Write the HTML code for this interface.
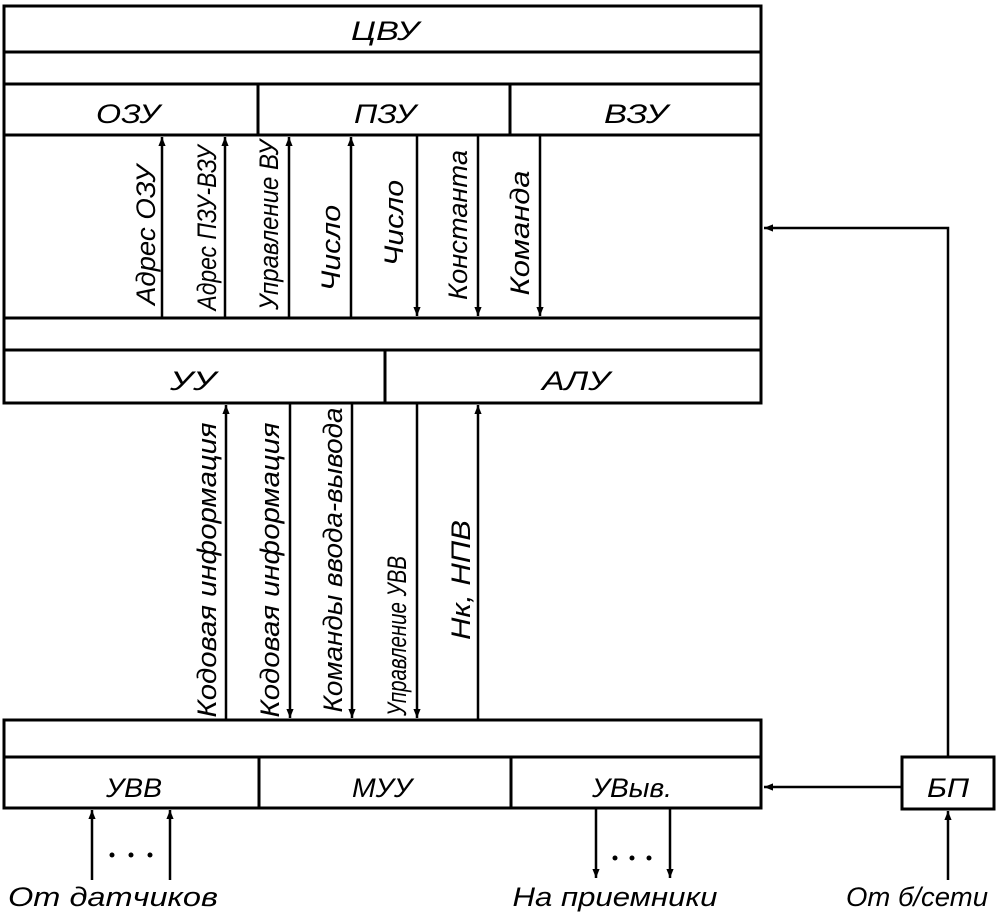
<!DOCTYPE html>
<html><head><meta charset="utf-8"><style>
html,body{margin:0;padding:0;background:#fff}
svg{display:block}
text{font-family:"Liberation Sans","DejaVu Sans",sans-serif;font-style:italic;font-size:27px;fill:#000}
</style></head><body>
<svg width="1000" height="919" viewBox="0 0 1000 919" xmlns="http://www.w3.org/2000/svg">
<defs>
<marker id="a" viewBox="0 0 10 10" refX="10" refY="5" markerWidth="9" markerHeight="14" orient="auto" markerUnits="userSpaceOnUse"><path d="M0,1 L10,5 L0,9 z" fill="#000"/></marker>
</defs>
<g stroke="#000" stroke-width="3" fill="none">
<rect x="4" y="6" width="757" height="397"/>
<line x1="4" y1="52" x2="761" y2="52"/>
<line x1="4" y1="84" x2="761" y2="84"/>
<line x1="4" y1="135" x2="761" y2="135"/>
<line x1="4" y1="318" x2="761" y2="318"/>
<line x1="4" y1="350" x2="761" y2="350"/>
<line x1="258" y1="84" x2="258" y2="135"/>
<line x1="510" y1="84" x2="510" y2="135"/>
<line x1="385" y1="350" x2="385" y2="403"/>
<rect x="4" y="720" width="757" height="88"/>
<line x1="4" y1="757" x2="761" y2="757"/>
<line x1="259" y1="757" x2="259" y2="808"/>
<line x1="511" y1="757" x2="511" y2="808"/>
<rect x="902" y="757" width="92" height="52"/>
</g>
<g stroke="#000" stroke-width="2.5" fill="none">
<line x1="162" y1="318" x2="162" y2="137" marker-end="url(#a)"/>
<line x1="225" y1="318" x2="225" y2="137" marker-end="url(#a)"/>
<line x1="289" y1="318" x2="289" y2="137" marker-end="url(#a)"/>
<line x1="351" y1="318" x2="351" y2="137" marker-end="url(#a)"/>
<line x1="417" y1="135" x2="417" y2="316" marker-end="url(#a)"/>
<line x1="478" y1="135" x2="478" y2="316" marker-end="url(#a)"/>
<line x1="540" y1="135" x2="540" y2="316" marker-end="url(#a)"/>
<line x1="226" y1="720" x2="226" y2="405" marker-end="url(#a)"/>
<line x1="290" y1="403" x2="290" y2="718" marker-end="url(#a)"/>
<line x1="352" y1="403" x2="352" y2="718" marker-end="url(#a)"/>
<line x1="417" y1="403" x2="417" y2="718" marker-end="url(#a)"/>
<line x1="478" y1="720" x2="478" y2="405" marker-end="url(#a)"/>
<polyline points="948,757 948,228 764,228" marker-end="url(#a)"/>
<line x1="902" y1="787" x2="764" y2="787" marker-end="url(#a)"/>
<line x1="948" y1="880" x2="948" y2="811" marker-end="url(#a)"/>
<line x1="92" y1="880" x2="92" y2="810" marker-end="url(#a)"/>
<line x1="170" y1="880" x2="170" y2="810" marker-end="url(#a)"/>
<line x1="596" y1="808" x2="596" y2="878" marker-end="url(#a)"/>
<line x1="670" y1="808" x2="670" y2="878" marker-end="url(#a)"/>
</g>
<g fill="#000"><circle cx="112" cy="855" r="2.5"/><circle cx="131" cy="855" r="2.5"/><circle cx="150" cy="855" r="2.5"/>
<circle cx="615" cy="858" r="2.5"/><circle cx="632" cy="858" r="2.5"/><circle cx="649" cy="858" r="2.5"/></g>
<g text-anchor="middle">
<text x="385" y="40" textLength="68" lengthAdjust="spacingAndGlyphs">ЦВУ</text>
<text x="128" y="123" textLength="64" lengthAdjust="spacingAndGlyphs">ОЗУ</text>
<text x="385" y="123" textLength="62" lengthAdjust="spacingAndGlyphs">ПЗУ</text>
<text x="636" y="123" textLength="64" lengthAdjust="spacingAndGlyphs">ВЗУ</text>
<text x="193" y="390" textLength="46" lengthAdjust="spacingAndGlyphs">УУ</text>
<text x="576" y="390" textLength="68" lengthAdjust="spacingAndGlyphs">АЛУ</text>
<text x="134" y="797" textLength="56" lengthAdjust="spacingAndGlyphs">УВВ</text>
<text x="382" y="797" textLength="60" lengthAdjust="spacingAndGlyphs">МУУ</text>
<text x="632" y="797" textLength="80" lengthAdjust="spacingAndGlyphs">УВыв.</text>
<text x="948" y="797" textLength="42" lengthAdjust="spacingAndGlyphs">БП</text>
<text x="113" y="906" textLength="210" lengthAdjust="spacingAndGlyphs">От датчиков</text>
<text x="615" y="906" textLength="205" lengthAdjust="spacingAndGlyphs">На приемники</text>
<text x="917" y="906" textLength="142" lengthAdjust="spacingAndGlyphs">От б/сети</text>
</g>
<g text-anchor="middle">
<text transform="translate(155,235) rotate(-90)" textLength="140" lengthAdjust="spacingAndGlyphs">Адрес ОЗУ</text>
<text transform="translate(216,228) rotate(-90)" textLength="165" lengthAdjust="spacingAndGlyphs">Адрес ПЗУ-ВЗУ</text>
<text transform="translate(278,225) rotate(-90)" textLength="170" lengthAdjust="spacingAndGlyphs">Управление ВУ</text>
<text transform="translate(340,248) rotate(-90)" textLength="86" lengthAdjust="spacingAndGlyphs">Число</text>
<text transform="translate(403,223) rotate(-90)" textLength="86" lengthAdjust="spacingAndGlyphs">Число</text>
<text transform="translate(467,225) rotate(-90)" textLength="150" lengthAdjust="spacingAndGlyphs">Константа</text>
<text transform="translate(529,233) rotate(-90)" textLength="125" lengthAdjust="spacingAndGlyphs">Команда</text>
<text transform="translate(216,570) rotate(-90)" textLength="295" lengthAdjust="spacingAndGlyphs">Кодовая информация</text>
<text transform="translate(279,570) rotate(-90)" textLength="295" lengthAdjust="spacingAndGlyphs">Кодовая информация</text>
<text transform="translate(342,560) rotate(-90)" textLength="305" lengthAdjust="spacingAndGlyphs">Команды ввода-вывода</text>
<text transform="translate(406,636) rotate(-90)" textLength="160" lengthAdjust="spacingAndGlyphs">Управление УВВ</text>
<text transform="translate(470,580) rotate(-90)" textLength="120" lengthAdjust="spacingAndGlyphs">Нк, НПВ</text>
</g>
</svg>
</body></html>
